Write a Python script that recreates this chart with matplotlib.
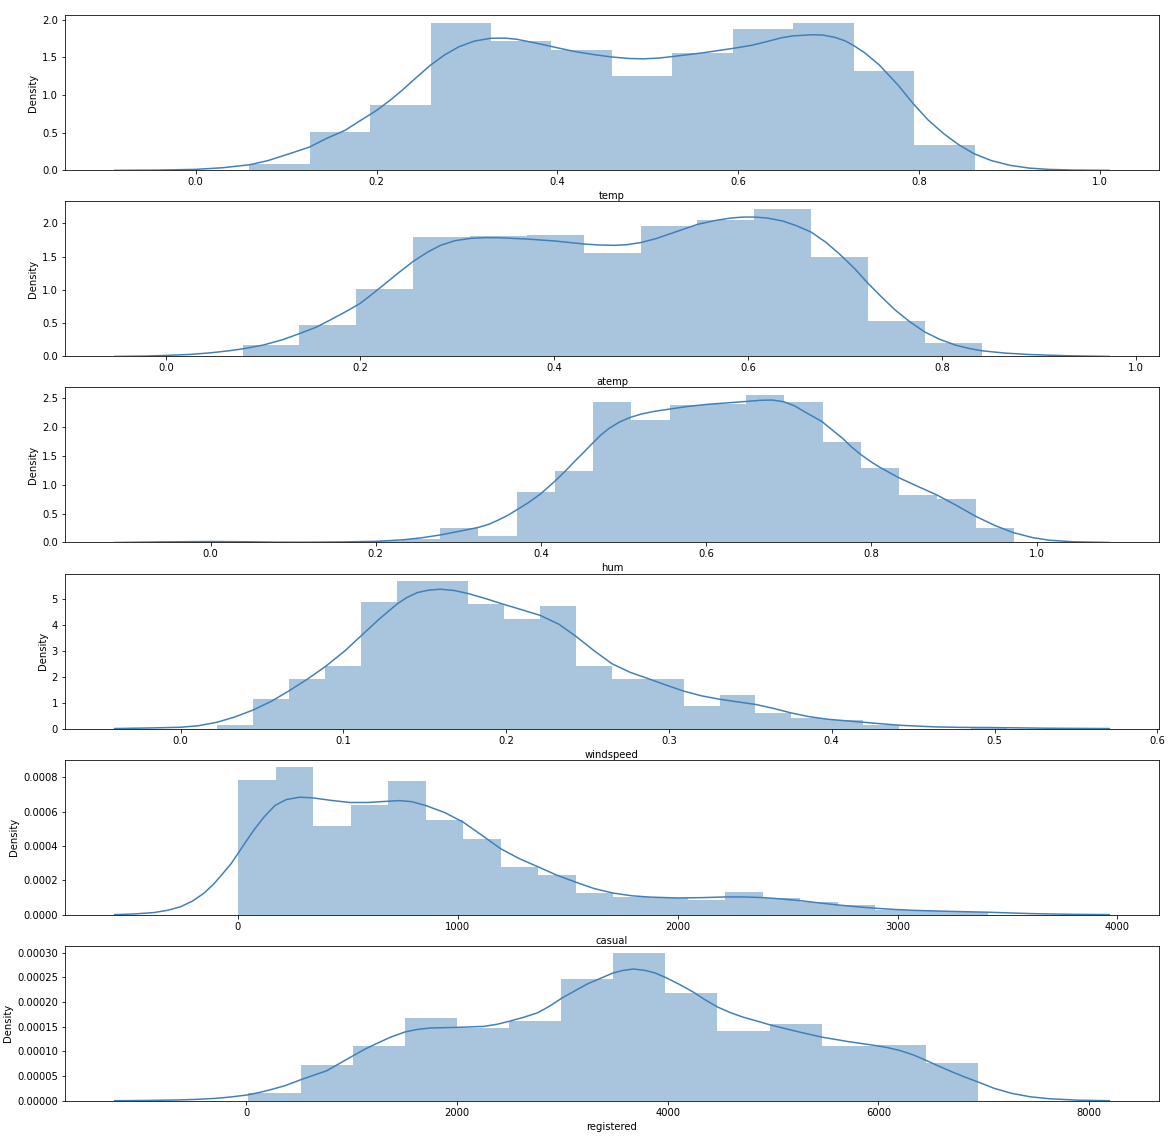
import numpy as np
import matplotlib
matplotlib.use("Agg")
import matplotlib.pyplot as plt

# ---------------- data ----------------
# temp
temp_range = (0.05913, 0.861667)
temp_hist = [0.079, 0.503, 0.87, 1.96, 1.713, 1.60, 1.258, 1.558, 1.872, 1.96, 1.325, 0.331]
temp_kde_x = [-0.0896, -0.04, 0.0, 0.03, 0.06, 0.08, 0.106, 0.126, 0.144, 0.165, 0.182, 0.2,
              0.215, 0.228, 0.241, 0.259, 0.275, 0.291, 0.308, 0.326, 0.342, 0.355, 0.376,
              0.393, 0.418, 0.441, 0.46, 0.479, 0.495, 0.512, 0.527, 0.561, 0.595, 0.615,
              0.632, 0.648, 0.661, 0.682, 0.694, 0.707, 0.718, 0.728, 0.74, 0.756, 0.777,
              0.794, 0.81, 0.827, 0.844, 0.861, 0.88, 0.901, 0.922, 0.943, 0.97, 1.0105]
temp_kde_y = [0.0, 0.004, 0.013, 0.035, 0.075, 0.13, 0.23, 0.31, 0.42, 0.53, 0.66, 0.795,
              0.93, 1.06, 1.2, 1.39, 1.53, 1.64, 1.715, 1.753, 1.755, 1.74, 1.69,
              1.645, 1.58, 1.535, 1.505, 1.485, 1.48, 1.49, 1.51, 1.56, 1.62, 1.66,
              1.71, 1.76, 1.785, 1.80, 1.795, 1.765, 1.72, 1.655, 1.56, 1.40, 1.13,
              0.88, 0.67, 0.49, 0.34, 0.22, 0.13, 0.066, 0.03, 0.013, 0.004, 0.0]

# atemp
atemp_range = (0.0790696, 0.840896)
atemp_hist = [0.17, 0.47, 1.015, 1.79, 1.81, 1.83, 1.55, 1.955, 2.055, 2.22, 1.495, 0.53, 0.195]
atemp_kde_x = [-0.0528, -0.02, 0.0, 0.025, 0.0465, 0.065, 0.0796, 0.1, 0.12, 0.138, 0.155,
               0.169, 0.185, 0.2, 0.212, 0.224, 0.24, 0.255, 0.27, 0.283, 0.298, 0.314,
               0.33, 0.342, 0.372, 0.401, 0.431, 0.447, 0.462, 0.475, 0.489, 0.505, 0.52,
               0.535, 0.548, 0.565, 0.582, 0.595, 0.607, 0.62, 0.636, 0.65, 0.665, 0.68,
               0.694, 0.71, 0.724, 0.738, 0.752, 0.767, 0.782, 0.798, 0.814, 0.828, 0.841,
               0.865, 0.891, 0.93, 0.9725]
atemp_kde_y = [0.0, 0.006, 0.015, 0.03, 0.055, 0.085, 0.115, 0.17, 0.25, 0.345, 0.44,
               0.545, 0.67, 0.795, 0.93, 1.07, 1.26, 1.43, 1.57, 1.67, 1.74, 1.775,
               1.785, 1.785, 1.765, 1.735, 1.69, 1.675, 1.67, 1.68, 1.71, 1.77, 1.845,
               1.92, 1.985, 2.04, 2.08, 2.095, 2.095, 2.08, 2.035, 1.965, 1.87, 1.72,
               1.545, 1.32, 1.095, 0.89, 0.695, 0.52, 0.37, 0.255, 0.17, 0.12, 0.085,
               0.05, 0.028, 0.01, 0.0]

# hum
hum_range = (0.0, 0.9725)
hum_hist = [0.029, 0.0, 0.0, 0.0, 0.03, 0.059, 0.247, 0.12, 0.868, 1.236, 2.43, 2.12, 2.37,
            2.40, 2.55, 2.43, 1.73, 1.287, 0.828, 0.747, 0.247]
hum_kde_x = [-0.116, -0.06, 0.0, 0.047, 0.08, 0.116, 0.16, 0.2, 0.232, 0.255, 0.278, 0.3,
             0.324, 0.337, 0.348, 0.36, 0.370, 0.385, 0.4, 0.417, 0.43, 0.44, 0.452, 0.462,
             0.472, 0.482, 0.495, 0.508, 0.522, 0.537, 0.554, 0.578, 0.601, 0.625, 0.648,
             0.665, 0.68, 0.694, 0.707, 0.72, 0.73, 0.740, 0.752, 0.765, 0.776, 0.787, 0.8,
             0.81, 0.833, 0.856, 0.880, 0.903, 0.926, 0.95, 0.972, 0.995, 1.015, 1.045, 1.088]
hum_kde_y = [0.0, 0.01, 0.017, 0.012, 0.006, 0.005, 0.01, 0.02, 0.045, 0.08, 0.13, 0.19,
             0.26, 0.315, 0.385, 0.47, 0.557, 0.69, 0.845, 1.06, 1.24, 1.39, 1.56, 1.707,
             1.85, 1.966, 2.08, 2.16, 2.22, 2.264, 2.30, 2.35, 2.385, 2.41, 2.435,
             2.455, 2.46, 2.43, 2.36, 2.25, 2.17, 2.09, 1.95, 1.80, 1.65, 1.52, 1.39,
             1.30, 1.12, 0.97, 0.816, 0.64, 0.454, 0.29, 0.17, 0.085, 0.04, 0.012, 0.0]

# windspeed
wind_range = (0.0223917, 0.507463)
wind_hist = [0.14, 1.125, 1.905, 2.417, 4.87, 5.69, 5.69, 4.81, 4.23, 4.73, 2.417, 1.905,
             1.905, 0.857, 1.29, 0.588, 0.396, 0.32, 0.153, 0.0, 0.0, 0.062]
wind_kde_x = [-0.0405, -0.0164, 0.0, 0.011, 0.0223, 0.033, 0.0446, 0.056, 0.0667, 0.078,
              0.0887, 0.101, 0.1108, 0.122, 0.133, 0.139, 0.1455, 0.152, 0.1596, 0.168,
              0.1768, 0.1878, 0.1988, 0.21, 0.2209, 0.2324, 0.2429, 0.254, 0.2649, 0.276,
              0.287, 0.298, 0.3092, 0.32, 0.3312, 0.342, 0.3532, 0.364, 0.3752, 0.386,
              0.3973, 0.4193, 0.4414, 0.4635, 0.48, 0.5, 0.532, 0.5705]
wind_kde_y = [0.0, 0.026, 0.05, 0.11, 0.243, 0.44, 0.716, 1.06, 1.458, 1.91,
              2.38, 3.0, 3.57, 4.22, 4.80, 5.05, 5.24, 5.33, 5.37, 5.32,
              5.2, 5.0, 4.78, 4.57, 4.36, 4.02, 3.55, 3.0, 2.5, 2.17,
              1.93, 1.68, 1.44, 1.26, 1.13, 1.03, 0.93, 0.78, 0.6, 0.46,
              0.36, 0.243, 0.128, 0.064, 0.045, 0.038, 0.013, 0.0]

# casual (density values in units of 1e-4)
casual_range = (2, 3410)
casual_hist = [7.86, 8.60, 5.14, 6.39, 7.77, 5.54, 4.42, 2.78, 2.30, 1.24, 1.02, 0.95, 0.83,
               1.29, 0.95, 0.73, 0.54, 0.27, 0.19, 0.17]
casual_kde_x = [-560, -470, -382, -320, -260, -205, -155, -110, -68, -30, 0, 35, 72, 120,
                169, 220, 281, 340, 420, 510, 590, 665, 735, 790, 853, 940, 1024, 1110,
                1195, 1280, 1366, 1450, 1541, 1620, 1704, 1790, 1875, 2000, 2110, 2219,
                2300, 2390, 2475, 2560, 2645, 2731, 2815, 2901, 2990, 3072, 3240, 3413,
                3605, 3780, 3963]
casual_kde_y = [0.0, 0.04, 0.12, 0.25, 0.46, 0.8, 1.24, 1.78, 2.4, 2.98, 3.55, 4.22, 4.91,
                5.7, 6.36, 6.7, 6.84, 6.80, 6.66, 6.53, 6.53, 6.59, 6.64, 6.58, 6.36, 5.95,
                5.39, 4.62, 3.84, 3.26, 2.78, 2.3, 1.87, 1.52, 1.26, 1.10, 1.02, 0.97,
                0.99, 1.03, 1.03, 0.99, 0.91, 0.81, 0.68, 0.56, 0.46, 0.37, 0.3, 0.25,
                0.19, 0.14, 0.06, 0.02, 0.0]

# registered (density values in units of 1e-4)
reg_range = (20, 6946)
reg_hist = [0.148, 0.72, 1.10, 1.676, 1.48, 1.615, 2.477, 2.995, 2.187, 1.407, 1.548, 1.11,
            1.124, 0.774]
reg_kde_x = [-1250, -950, -696, -500, -295, -150, 0, 110, 215, 360, 506, 630, 761, 880,
             1005, 1120, 1235, 1370, 1504, 1620, 1745, 2000, 2255, 2380, 2503, 2630, 2765,
             2880, 2995, 3120, 3239, 3360, 3481, 3580, 3676, 3780, 3880, 3979, 4110, 4245,
             4360, 4473, 4590, 4708, 4840, 4968, 5215, 5461, 5710, 5956, 6080, 6201, 6330,
             6450, 6575, 6699, 6820, 6941, 7100, 7268, 7440, 7623, 7900, 8192]
reg_kde_y = [0.0, 0.005, 0.013, 0.025, 0.047, 0.075, 0.114, 0.16, 0.215, 0.3, 0.417, 0.51,
             0.606, 0.75, 0.902, 1.04, 1.158, 1.29, 1.393, 1.445, 1.474, 1.487, 1.507,
             1.55, 1.615, 1.69, 1.783, 1.92, 2.08, 2.23, 2.37, 2.48, 2.59, 2.645, 2.67,
             2.645, 2.59, 2.50, 2.36, 2.20, 2.04, 1.90, 1.79, 1.70, 1.62, 1.54, 1.41,
             1.29, 1.2, 1.124, 1.08, 1.02, 0.93, 0.82, 0.70, 0.585, 0.48, 0.384, 0.25,
             0.148, 0.08, 0.04, 0.01, 0.0]

names = ["temp", "atemp", "hum", "windspeed", "casual", "registered"]
ranges = [temp_range, atemp_range, hum_range, wind_range, casual_range, reg_range]
hists = [temp_hist, atemp_hist, hum_hist, wind_hist, casual_hist, reg_hist]
kde_xs = [temp_kde_x, atemp_kde_x, hum_kde_x, wind_kde_x, casual_kde_x, reg_kde_x]
kde_ys = [temp_kde_y, atemp_kde_y, hum_kde_y, wind_kde_y, casual_kde_y, reg_kde_y]
units = [1, 1, 1, 1, 1e-4, 1e-4]

# ---------------- plotting ----------------
W, H = 1168, 1144
fig, axes = plt.subplots(6, 1, figsize=(W / 72, H / 72), dpi=72)
fig.subplots_adjust(left=65 / W, right=1159 / W, top=1 - 15.3 / H,
                    bottom=1 - 1100.7 / H, hspace=0.2)

bar_color = "#2a70ac"
line_color = "#3f7fba"
for ax, name, rng, h, kx, ky, u in zip(axes, names, ranges, hists, kde_xs, kde_ys, units):
    edges = np.linspace(rng[0], rng[1], len(h) + 1)
    ax.hist(edges[:-1], bins=edges, weights=np.array(h) * u,
            color=bar_color, alpha=0.4)
    ax.plot(kx, np.array(ky) * u, color=line_color, lw=1.5,
            solid_joinstyle="round")
    ax.set_xlabel(name)
    ax.set_ylabel("Density")

fig.savefig("out.png", dpi=72)
